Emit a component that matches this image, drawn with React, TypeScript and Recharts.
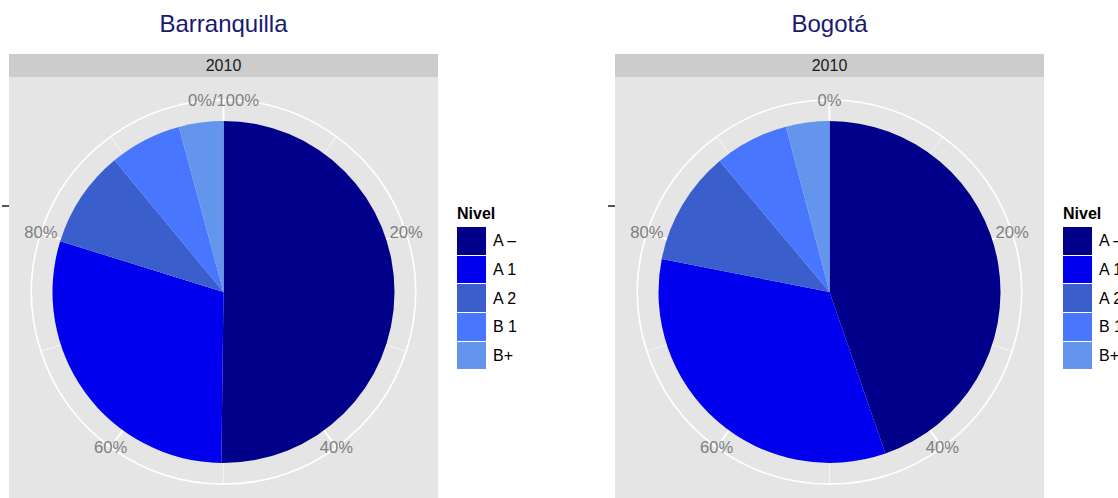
import React from 'react';
import { PieChart, Pie, Cell, Legend } from 'recharts';

// Data
const NIVELES = ['A –', 'A 1', 'A 2', 'B 1', 'B+'];
const COLORS = ['#00008B', '#0000EE', '#3A5FCD', '#4876FF', '#6495ED'];
const BARRANQUILLA = [50.2, 29.6, 9.2, 6.8, 4.2];
const BOGOTA = [44.7, 33.4, 10.8, 7.0, 4.1];
const YEAR = '2010';
const TICKS_BAQ = ['0%/100%', '20%', '40%', '60%', '80%'];
const TICKS_BOG = ['0%', '20%', '40%', '60%', '80%'];
// theta grid: major every 20%, minor every 10%
const GRID_MAJOR = [20, 20, 20, 20, 20];
const GRID_MINOR = [10, 10, 10, 10, 10, 10, 10, 10, 10, 10];

const FONT = '"Liberation Sans", Arial, Helvetica, sans-serif';
const PANEL_W = 429;
const CY = 292;
const PIE_R = 171;
const GRID_R = 192;

const LegendBox = () => (
  <div style={{ fontFamily: FONT }}>
    <div style={{ fontWeight: 'bold', fontSize: 16, lineHeight: '20px', color: '#000', marginBottom: 3 }}>Nivel</div>
    {NIVELES.map((n, i) => (
      <div key={n} style={{ display: 'flex', alignItems: 'center', height: 28.7 }}>
        <div style={{ width: 29, height: 27.7, background: COLORS[i], marginBottom: 1 }} />
        <span style={{ fontSize: 16, marginLeft: 7, color: '#000', whiteSpace: 'nowrap' }}>{n}</span>
      </div>
    ))}
  </div>
);

const tickLabel = (ticks: string[]) => (props: any) => {
  const { cx, cy, startAngle, index } = props;
  const rad = (startAngle * Math.PI) / 180;
  const x = cx + GRID_R * Math.cos(rad);
  const y = cy - GRID_R * Math.sin(rad);
  return (
    <text key={index} x={x} y={y} textAnchor="middle" dominantBaseline="central" fill="#7F7F7F" fontSize={16.6} fontFamily={FONT}>
      {ticks[index]}
    </text>
  );
};

interface PanelProps {
  left: number;
  title: string;
  values: number[];
  ticks: string[];
}

const Panel: React.FC<PanelProps> = ({ left, title, values, ticks }) => {
  const data = NIVELES.map((n, i) => ({ nivel: n, value: values[i] }));
  const cx = PANEL_W / 2;
  return (
    <>
      <div style={{ position: 'absolute', left, top: 10, width: PANEL_W, textAlign: 'center', fontSize: 24, lineHeight: '28px', color: '#191970', fontFamily: FONT }}>
        {title}
      </div>
      <div style={{ position: 'absolute', left, top: 54, width: PANEL_W, height: 23, background: '#CCCCCC', textAlign: 'center', fontSize: 16, lineHeight: '23px', color: '#1A1A1A', fontFamily: FONT }}>
        {YEAR}
      </div>
      <div style={{ position: 'absolute', left, top: 77, width: PANEL_W, height: 421, background: '#E5E5E5' }} />
      <div style={{ position: 'absolute', left: left - 7, top: 205, width: 7, height: 1.5, background: '#555' }} />
      <div style={{ position: 'absolute', left, top: 0 }}>
        <PieChart width={PANEL_W + 160} height={498} margin={{ top: 0, right: 0, bottom: 0, left: 0 }}>
          <Pie
            data={GRID_MINOR.map((v, i) => ({ k: i, v }))}
            dataKey="v"
            cx={cx}
            cy={CY}
            innerRadius={0}
            outerRadius={GRID_R}
            startAngle={90}
            endAngle={-270}
            fill="none"
            stroke="#F4F4F4"
            strokeWidth={0.8}
            isAnimationActive={false}
          />
          <Pie
            data={GRID_MAJOR.map((v, i) => ({ k: i, v }))}
            dataKey="v"
            cx={cx}
            cy={CY}
            innerRadius={0}
            outerRadius={GRID_R}
            startAngle={90}
            endAngle={-270}
            fill="none"
            stroke="#FFFFFF"
            strokeWidth={1.6}
            label={tickLabel(ticks)}
            labelLine={false}
            isAnimationActive={false}
          />
          <Pie
            data={data}
            dataKey="value"
            nameKey="nivel"
            cx={cx}
            cy={CY}
            innerRadius={0}
            outerRadius={PIE_R}
            startAngle={90}
            endAngle={-270}
            stroke="none"
            isAnimationActive={false}
          >
            {data.map((d, i) => (
              <Cell key={d.nivel} fill={COLORS[i]} />
            ))}
          </Pie>
          <Legend
            content={() => <LegendBox />}
            wrapperStyle={{ position: 'absolute', left: PANEL_W + 19, top: 204, right: 'auto', bottom: 'auto', width: 120 }}
          />
        </PieChart>
      </div>
    </>
  );
};

export default function App() {
  return (
    <div style={{ position: 'absolute', left: 0, top: 0, width: 1118, height: 498, overflow: 'hidden', background: '#fff' }}>
      <Panel left={9} title="Barranquilla" values={BARRANQUILLA} ticks={TICKS_BAQ} />
      <Panel left={615} title="Bogotá" values={BOGOTA} ticks={TICKS_BOG} />
    </div>
  );
}
